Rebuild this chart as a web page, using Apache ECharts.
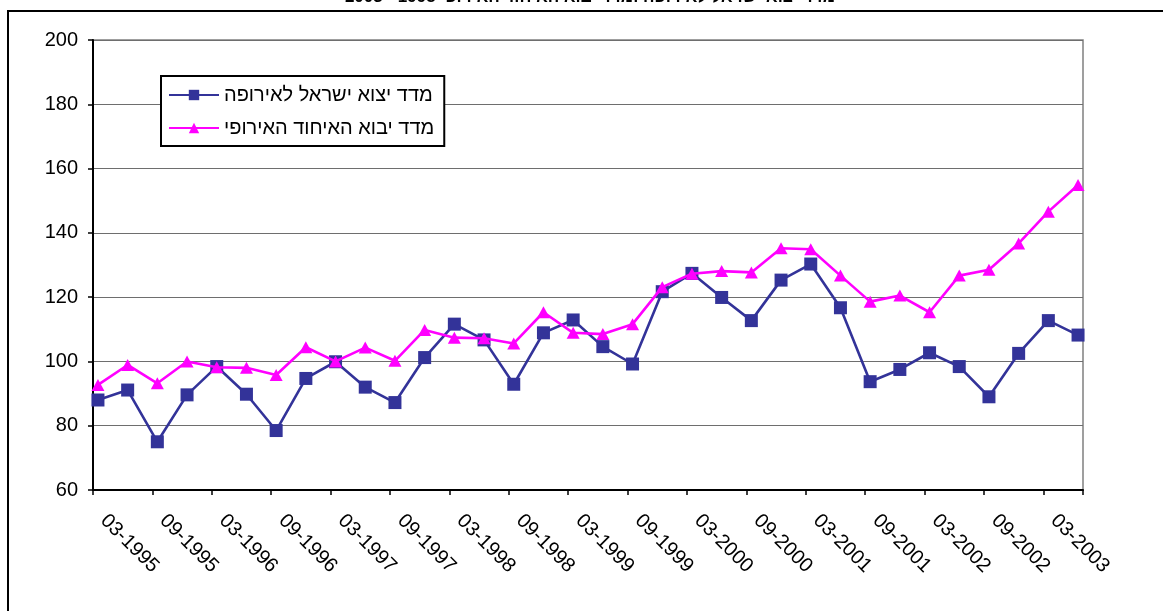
<!DOCTYPE html>
<html>
<head>
<meta charset="utf-8">
<script src="https://cdn.jsdelivr.net/npm/echarts@6/dist/echarts.min.js"></script>
<style>
html,body{margin:0;padding:0;background:#fff;}
#chart{width:1163px;height:611px;}
</style>
</head>
<body>
<div id="chart"></div>
<script>
// Quarterly periods (MM-YYYY)
const quarters = [
  '03-1995','06-1995','09-1995','12-1995',
  '03-1996','06-1996','09-1996','12-1996',
  '03-1997','06-1997','09-1997','12-1997',
  '03-1998','06-1998','09-1998','12-1998',
  '03-1999','06-1999','09-1999','12-1999',
  '03-2000','06-2000','09-2000','12-2000',
  '03-2001','06-2001','09-2001','12-2001',
  '03-2002','06-2002','09-2002','12-2002',
  '03-2003','06-2003'
];
// מדד יצוא ישראל לאירופה
const israelExportsToEurope = [
  88.0, 91.1, 75.0, 89.6,
  98.4, 89.8, 78.5, 94.7,
  99.9, 92.0, 87.2, 101.2,
  111.6, 106.7, 92.9, 108.9,
  112.9, 104.6, 99.2, 121.7,
  127.4, 119.9, 112.7, 125.3,
  130.3, 116.7, 93.7, 97.5,
  102.7, 98.4, 89.0, 102.5,
  112.7, 108.2
];
// מדד יבוא האיחוד האירופי
const euImports = [
  92.7, 98.9, 93.2, 100.0,
  98.2, 98.0, 95.8, 104.4,
  100.0, 104.3, 100.2, 109.8,
  107.4, 107.2, 105.6, 115.3,
  108.9, 108.5, 111.6, 123.1,
  127.3, 128.1, 127.7, 135.2,
  134.9, 126.7, 118.6, 120.5,
  115.3, 126.7, 128.5, 136.7,
  146.6, 154.9
];
const seriesNames = ['מדד יצוא ישראל לאירופה', 'מדד יבוא האיחוד האירופי'];
const titleText = '2003 - 1995 מדד יצוא ישראל לאירופה ומדד יבוא האיחוד האירופי';
const yTicks = { min: 60, max: 200, step: 20 };

// Build a monthly date-style axis spanning the quarters (like Excel's date axis)
function parseMY(s){ const [m,y] = s.split('-').map(Number); return {m, y}; }
const first = parseMY(quarters[0]);
const last = parseMY(quarters[quarters.length-1]);
const months = [];
{
  let m = first.m, y = first.y;
  while (y < last.y || (y === last.y && m <= last.m)) {
    months.push(String(m).padStart(2,'0') + '-' + y);
    m++; if (m > 12) { m = 1; y++; }
  }
}

const FONT = 'Liberation Sans, Arial, sans-serif';
const chart = echarts.init(document.getElementById('chart'), null, {renderer:'canvas'});
chart.setOption({
  backgroundColor: '#ffffff',
  animation: false,
  graphic: [
    { type:'rect', shape:{x:8, y:11, width:1300, height:800}, style:{fill:'none', stroke:'#000', lineWidth:2}, z:-1 },
    { type:'text', x:590, y:-3, style:{ text:titleText, font:'bold 17px ' + FONT, fill:'#000', align:'center', verticalAlign:'middle' } }
  ],
  grid: { left:93, right:80, top:40, bottom:121, show:true, borderColor:'#808080', borderWidth:1.5, backgroundColor:'#fff' },
  legend: {
    orient:'vertical', left:161, top:76,
    padding:[9,10,8,7], itemGap:13, itemWidth:50, itemHeight:13,
    backgroundColor:'#fff', borderColor:'#000', borderWidth:2,
    textStyle:{ fontFamily:FONT, fontSize:20, color:'#000' },
    data: seriesNames
  },
  xAxis: {
    type:'category', data: months, boundaryGap:true,
    axisLine:{ show:true, lineStyle:{ color:'#000', width:2 } },
    axisTick:{ show:true, interval:5, length:5, lineStyle:{ color:'#000', width:1.5 } },
    axisLabel:{ interval:5, rotate:-45, margin:22, padding:[0,0,0,8], fontFamily:FONT, fontSize:20, color:'#000' },
    splitLine:{ show:false }
  },
  yAxis: {
    type:'value', min:yTicks.min, max:yTicks.max, interval:yTicks.step,
    axisLine:{ show:true, lineStyle:{ color:'#000', width:2 } },
    axisTick:{ show:true, length:5, lineStyle:{ color:'#000', width:1.5 } },
    axisLabel:{ margin:15, fontFamily:FONT, fontSize:20, color:'#000' },
    splitLine:{ show:true, lineStyle:{ color:'#6e6e6e', width:1 } }
  },
  series: [
    {
      name: seriesNames[0], type:'line',
      data: quarters.map((q,i)=>[q, israelExportsToEurope[i]]),
      symbol:'rect', symbolSize:13, showAllSymbol:true,
      lineStyle:{ color:'#333399', width:2.6 },
      itemStyle:{ color:'#333399' },
      z:2
    },
    {
      name: seriesNames[1], type:'line',
      data: quarters.map((q,i)=>[q, euImports[i]]),
      symbol:'triangle', symbolSize:[13,12], showAllSymbol:true,
      lineStyle:{ color:'#ff00ff', width:2.6 },
      itemStyle:{ color:'#ff00ff' },
      z:3
    }
  ]
});
</script>
</body>
</html>
